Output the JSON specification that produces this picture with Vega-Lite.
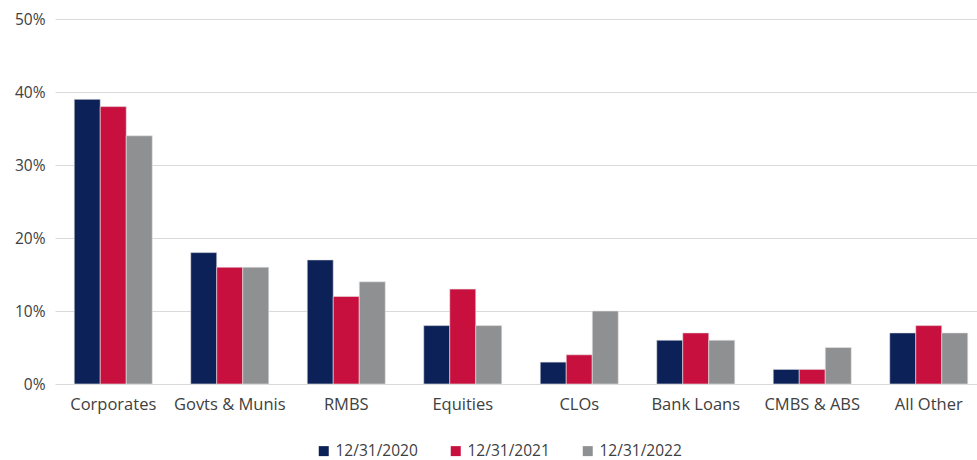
{
  "$schema": "https://vega.github.io/schema/vega-lite/v6.json",
  "width": 932,
  "height": 365,
  "autosize": {"type": "none"},
  "padding": {"left": 55, "top": 19, "right": 0, "bottom": 76},
  "background": "white",
  "config": {
    "view": {"stroke": null},
    "font": "Open Sans",
    "axis": {"labelFont": "Open Sans", "labelColor": "#404040"},
    "legend": {"labelFont": "Open Sans", "labelColor": "#404040"}
  },
  "data": {
    "values": [
      {"category": "Corporates", "date": "12/31/2020", "value": 0.39},
      {"category": "Corporates", "date": "12/31/2021", "value": 0.38},
      {"category": "Corporates", "date": "12/31/2022", "value": 0.34},
      {"category": "Govts & Munis", "date": "12/31/2020", "value": 0.18},
      {"category": "Govts & Munis", "date": "12/31/2021", "value": 0.16},
      {"category": "Govts & Munis", "date": "12/31/2022", "value": 0.16},
      {"category": "RMBS", "date": "12/31/2020", "value": 0.17},
      {"category": "RMBS", "date": "12/31/2021", "value": 0.12},
      {"category": "RMBS", "date": "12/31/2022", "value": 0.14},
      {"category": "Equities", "date": "12/31/2020", "value": 0.08},
      {"category": "Equities", "date": "12/31/2021", "value": 0.13},
      {"category": "Equities", "date": "12/31/2022", "value": 0.08},
      {"category": "CLOs", "date": "12/31/2020", "value": 0.03},
      {"category": "CLOs", "date": "12/31/2021", "value": 0.04},
      {"category": "CLOs", "date": "12/31/2022", "value": 0.10},
      {"category": "Bank Loans", "date": "12/31/2020", "value": 0.06},
      {"category": "Bank Loans", "date": "12/31/2021", "value": 0.07},
      {"category": "Bank Loans", "date": "12/31/2022", "value": 0.06},
      {"category": "CMBS & ABS", "date": "12/31/2020", "value": 0.02},
      {"category": "CMBS & ABS", "date": "12/31/2021", "value": 0.02},
      {"category": "CMBS & ABS", "date": "12/31/2022", "value": 0.05},
      {"category": "All Other", "date": "12/31/2020", "value": 0.07},
      {"category": "All Other", "date": "12/31/2021", "value": 0.08},
      {"category": "All Other", "date": "12/31/2022", "value": 0.07}
    ]
  },
  "mark": {"type": "bar", "stroke": "#e6e6e6", "strokeWidth": 0.6},
  "encoding": {
    "x": {
      "field": "category",
      "type": "nominal",
      "sort": null,
      "scale": {"paddingInner": 0.33, "paddingOuter": 0.165},
      "axis": {
        "title": null,
        "labelAngle": 0,
        "labelFontSize": 16.5,
        "labelPadding": 12,
        "ticks": false,
        "domain": false
      }
    },
    "xOffset": {"field": "date", "type": "nominal", "sort": null},
    "y": {
      "field": "value",
      "type": "quantitative",
      "scale": {"domain": [0, 0.5]},
      "axis": {
        "title": null,
        "format": ".0%",
        "values": [0, 0.1, 0.2, 0.3, 0.4, 0.5],
        "labelFontSize": 15.5,
        "labelPadding": 10,
        "ticks": false,
        "domain": false,
        "gridColor": "#d9d9d9",
        "gridWidth": 1
      }
    },
    "color": {
      "field": "date",
      "type": "nominal",
      "sort": null,
      "scale": {
        "domain": ["12/31/2020", "12/31/2021", "12/31/2022"],
        "range": ["#0c2157", "#c8103f", "#8f9092"]
      },
      "legend": {
        "title": null,
        "orient": "none",
        "legendX": 261,
        "legendY": 424,
        "direction": "horizontal",
        "symbolType": "square",
        "symbolSize": 100,
        "symbolStrokeWidth": 0,
        "labelFontSize": 15.5,
        "columnPadding": 30
      }
    }
  }
}
